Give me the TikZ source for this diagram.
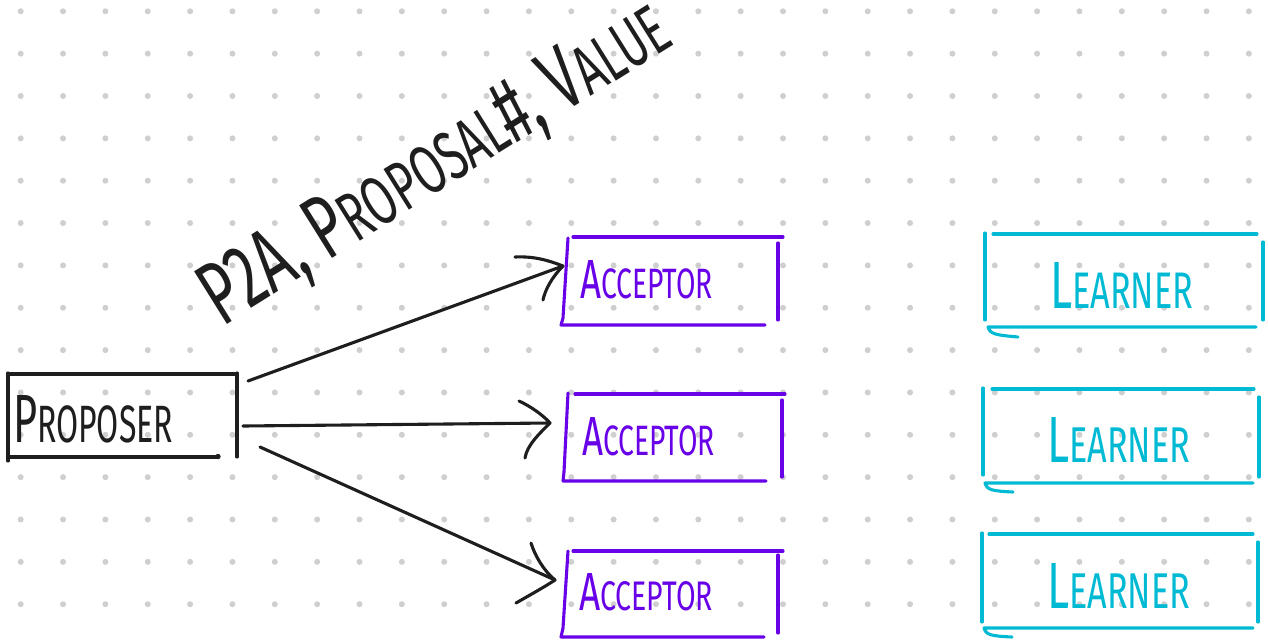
\documentclass[tikz,border=0pt]{standalone}
\usepackage{fontspec}
\usepackage{graphicx}
\setmainfont{Fira Sans}
\definecolor{ink}{HTML}{1E1E1E}
\definecolor{accviolet}{RGB}{104,0,232}
\definecolor{learncyan}{RGB}{0,186,212}
\definecolor{griddot}{HTML}{CFCFCF}
% first letter full size, the rest as small capitals
\newcommand\scword[2]{#1{\fontsize{7.7}{7.7}\selectfont #2}}
% text squeezed into a given width and cap height
\newcommand\fitted[3]{\resizebox{#1pt}{#2pt}{#3}}
\tikzset{
  pen/.style={line width=3.1pt, line cap=round, line join=round},
  frame/.style={inner sep=0pt, outer sep=0pt},
  word/.style={inner sep=0pt, outer sep=0pt, anchor=base west},
}
\begin{document}
\begin{tikzpicture}[x=1pt,y=-1pt]
\useasboundingbox (0,0) rectangle (1268,643);
\fill[white] (0,0) rectangle (1268,643);

% dotted canvas
\foreach \i in {0,...,29}
  \foreach \j in {0,...,14}
    \fill[griddot] (20.7+42.35*\i, 11.3+42.35*\j) circle (3pt);

% box areas
\node[frame, minimum width=229pt, minimum height=85pt] (prop) at (122.5,415.5) {};
\node[frame, minimum width=219pt, minimum height=88pt] (acc1) at (671.5,281) {};
\node[frame, minimum width=221pt, minimum height=87pt] (acc2) at (673.5,437.5) {};
\node[frame, minimum width=220pt, minimum height=86pt] (acc3) at (671,594) {};
\node[frame, minimum width=278pt, minimum height=94pt] (lrn1) at (1124,280.5) {};
\node[frame, minimum width=276pt, minimum height=95pt] (lrn2) at (1121,435.5) {};
\node[frame, minimum width=276pt, minimum height=95pt] (lrn3) at (1120,580.5) {};

% proposer outline
\draw[pen, ink] (8,373) -- (8,461);
\draw[pen, ink] (8,374) -- (235,374);
\draw[pen, ink] (237,373) -- (237,457);
\draw[pen, ink] (8,457) -- (218,457);
\fill[ink] (218,456.5) circle (2.7pt);

% acceptor outlines
\begin{scope}[pen, accviolet]
  \draw (568,238) -- (563,318) -- (561,325) -- (765,325);
  \draw (573,237) -- (783,237);
  \draw (778,243) -- (778,320);

  \draw (568,393) -- (564,472) -- (563,481) -- (766,481);
  \draw (575,394) -- (785,394);
  \draw (782,400) -- (782,477);

  \draw (568,551) -- (563,628) -- (561,637) -- (764,637);
  \draw (573,551) -- (783,551);
  \draw (778,555) -- (778,633);
\end{scope}

% learner outlines
\begin{scope}[pen, learncyan]
  \draw (985,233) -- (985,320);
  \draw (993,234) -- (1257,234);
  \draw (1263,242) -- (1263,320);
  \draw (1256,327) -- (988,327) .. controls (990,334) and (995,335) .. (1018,337);

  \draw (983,388) -- (983,475);
  \draw (992,389) -- (1254,389);
  \draw (1259,397) -- (1259,477);
  \draw (1253,483) -- (985,483) .. controls (987,490) and (992,491) .. (1013,492);

  \draw (982,533) -- (982,622);
  \draw (989,534) -- (1253,534);
  \draw (1258,542) -- (1258,622);
  \draw (1253,628) -- (984,628) .. controls (986,635) and (991,636) .. (1012,637);
\end{scope}

% labels
\node[word, ink] (proptext) at (13,442) {\fitted{160}{47}{\scword{P}{ROPOSER}}};
\node[word, accviolet] (acc1text) at (580,298) {\fitted{133}{38}{\scword{A}{CCEPTOR}}};
\node[word, accviolet] (acc2text) at (582,455) {\fitted{133}{38}{\scword{A}{CCEPTOR}}};
\node[word, accviolet] (acc3text) at (579,610) {\fitted{134}{37}{\scword{A}{CCEPTOR}}};
\node[word, learncyan] (lrn1text) at (1050,308) {\fitted{143}{46}{\scword{L}{EARNER}}};
\node[word, learncyan] (lrn2text) at (1047,462) {\fitted{143}{45}{\scword{L}{EARNER}}};
\node[word, learncyan] (lrn3text) at (1047,608) {\fitted{143}{45}{\scword{L}{EARNER}}};

\node[word, ink, rotate=32] (msg) at (222,327)
  {\fitted{535}{62}{P2A, \scword{P}{ROPOSAL}\#, \scword{V}{ALUE}}};

% connector ends
\coordinate (s1) at ([shift={(11,8)}]prop.north east);
\coordinate (s2) at ([shift={(6,10.5)}]prop.east);
\coordinate (s3) at ([shift={(23,-11)}]prop.south east);
\coordinate (t1) at ([shift={(1,-15)}]acc1.west);
\coordinate (t2) at ([shift={(-13,-14.5)}]acc2.west);
\coordinate (t3) at ([shift={(-6,-14)}]acc3.west);

% arrows from the proposer to each acceptor
\begin{scope}[pen, ink]
  \draw (s1) -- (t1);
  \draw ([shift={(-48,-9)}]t1) .. controls +(20,-1) and +(-13,-5) .. (t1);
  \draw ([shift={(-20,34)}]t1) .. controls +(2,-10) and +(-11,11) .. (t1);

  \draw (s2) -- (t2);
  \draw ([shift={(-31,-22)}]t2) .. controls +(11,5) and +(-7,-8) .. (t2);
  \draw ([shift={(-25,35)}]t2) .. controls +(2,-13) and +(-10,10) .. (t2);

  \draw (s3) -- (t3);
  \draw ([shift={(-24,-37)}]t3) .. controls +(4,13) and +(-11,-9) .. (t3);
  \draw ([shift={(-39,23)}]t3) .. controls +(14,-8) and +(-9,6) .. (t3);
\end{scope}
\end{tikzpicture}
\end{document}
